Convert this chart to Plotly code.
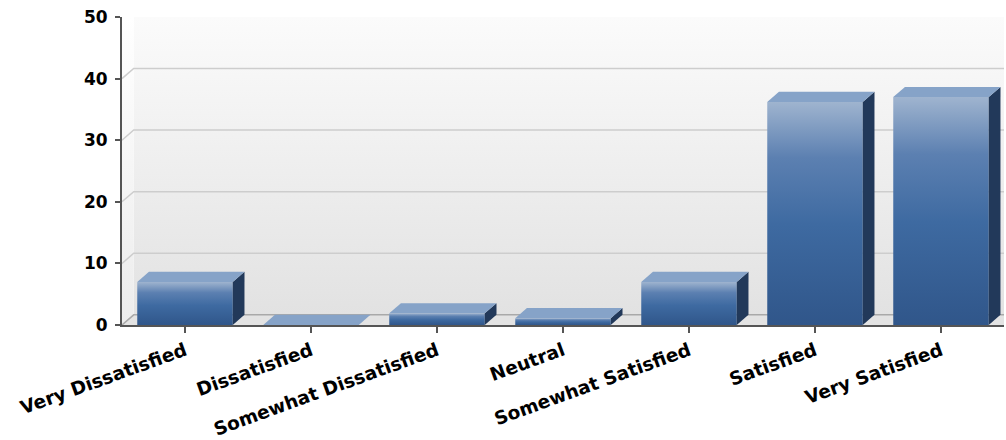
import plotly.graph_objects as go

categories = ["Very Dissatisfied", "Dissatisfied", "Somewhat Dissatisfied", "Neutral",
              "Somewhat Satisfied", "Satisfied", "Very Satisfied"]
values = [7.0, 0.0, 1.9, 1.1, 7.0, 36.2, 37.0]
y_ticks = [0, 10, 20, 30, 40, 50]

# 3D geometry (data units)
HALF = 0.379
DX = 0.093
DY = 1.65
X0, X1 = -0.5, 6.5
YMAX = 50

fig = go.Figure()

def poly(xs, ys, **kw):
    fig.add_trace(go.Scatter(x=xs + [xs[0]], y=ys + [ys[0]], mode="lines", fill="toself",
                             line=dict(width=0), hoverinfo="skip", showlegend=False, **kw))

# back wall
poly([X0 + DX, X1 + DX, X1 + DX, X0 + DX], [DY, DY, YMAX, YMAX],
     fillgradient=dict(type="vertical", colorscale=[[0, "#e2e2e2"], [1, "#fbfbfb"]]))
# left wall
poly([X0, X0 + DX, X0 + DX, X0], [0, DY, YMAX, YMAX],
     fillgradient=dict(type="vertical", colorscale=[[0, "#ececec"], [1, "#ffffff"]]))
# floor
poly([X0, X1, X1 + DX, X0 + DX], [0, 0, DY, DY], fillcolor="#e3e3e3")

# gridlines (back wall + left wall diagonal)
for t in y_ticks[1:-1]:
    fig.add_trace(go.Scatter(x=[X0, X0 + DX, X1 + DX], y=[t, t + DY, t + DY], mode="lines",
                             line=dict(color="#cdcdcd", width=1.5), hoverinfo="skip", showlegend=False))
# floor back line
fig.add_trace(go.Scatter(x=[X0, X0 + DX, X1 + DX], y=[0, DY, DY], mode="lines",
                         line=dict(color="#a9a9a9", width=1.5), hoverinfo="skip", showlegend=False))

front_scale = [[0, "#30568a"], [0.45, "#3e6aa1"], [0.75, "#5c80b1"], [1, "#9fb4cf"]]
for i, v in enumerate(values):
    c = i
    l, r = c - HALF, c + HALF
    if v > 0:
        poly([l, r, r, l], [0, 0, v, v],
             fillgradient=dict(type="vertical", colorscale=front_scale))
        poly([r, r + DX, r + DX, r], [0, DY, v + DY, v], fillcolor="#22395a")
    poly([l, r, r + DX, l + DX], [v, v, v + DY, v + DY], fillcolor="#86a3c8")

bold = dict(family="DejaVu Sans", size=17, color="#000000", weight="bold")
fig.update_layout(
    width=1006, height=440,
    margin=dict(l=122, r=2, t=17, b=115),
    paper_bgcolor="white", plot_bgcolor="white",
    showlegend=False, hovermode=False,
    xaxis=dict(range=[X0, X1], tickvals=list(range(len(categories))), ticktext=categories,
               tickangle=-20, tickfont=dict(family="DejaVu Sans", size=18.5, color="#000000", weight="bold"),
               showline=True, linecolor="#555555", linewidth=2, ticks="outside", ticklen=6,
               tickcolor="#555555", tickwidth=2, showgrid=False, zeroline=False, automargin=False,
               fixedrange=True),
    yaxis=dict(range=[0, YMAX], tickvals=y_ticks, tickfont=bold,
               showline=True, linecolor="#555555", linewidth=2, ticks="outside", ticklen=5,
               tickcolor="#555555", tickwidth=2, showgrid=False, zeroline=False, automargin=False,
               ticklabelstandoff=4, fixedrange=True),
)

fig.write_html("out.html")
